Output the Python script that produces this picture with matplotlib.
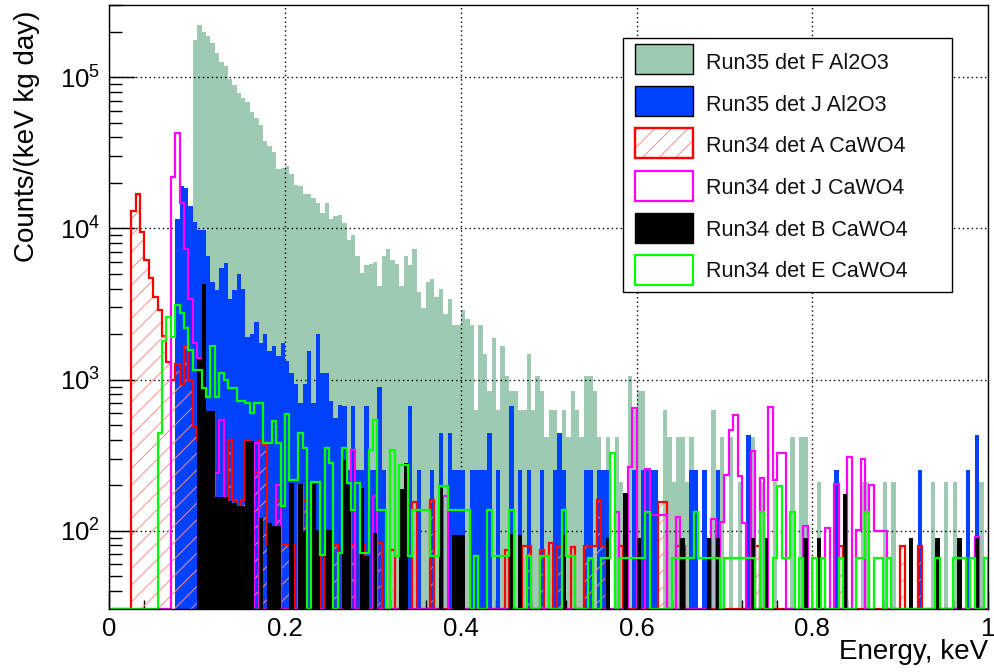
import numpy as np
import matplotlib
matplotlib.use("Agg")
import matplotlib.pyplot as plt
from matplotlib.patches import Rectangle
from matplotlib.ticker import LogLocator, MultipleLocator

# energy binning: 200 bins of 5 eV between 0 and 1 keV
edges = np.linspace(0.0, 1.0, 201)

# rates in counts/(keV kg day), one entry per bin
run35_F = [
    0, 0, 0, 0, 0, 0, 0, 0, 0, 0, 0, 0, 0, 0, 0, 0, 0, 0, 0, 177000,
    222000, 198000, 186000, 168000, 144000, 126000, 119000, 97000, 89000, 78000, 73000, 68000, 59000, 54000, 48000, 38000, 35000, 32000, 24600, 25000,
    26000, 23000, 19500, 19000, 17000, 17000, 15800, 14700, 12700, 14700, 11500, 12000, 12200, 10900, 8400, 9100, 6600, 5100, 5700, 5800,
    6000, 4150, 6600, 7300, 6200, 5800, 4150, 6600, 5700, 7300, 3800, 2980, 4400, 4600, 3500, 3950, 2700, 3400, 2300, 2300,
    2900, 2500, 2300, 630, 2300, 1470, 840, 1890, 630, 1680, 1050, 840, 840, 630, 630, 1470, 630, 1050, 840, 420,
    630, 630, 420, 630, 420, 840, 630, 420, 1050, 1050, 840, 420, 0, 420, 0, 420, 210, 0, 1050, 630,
    840, 840, 210, 210, 210, 0, 630, 420, 210, 420, 420, 210, 420, 210, 0, 210, 0, 630, 210, 420,
    0, 420, 0, 210, 0, 210, 420, 0, 210, 0, 0, 210, 0, 0, 0, 420, 0, 420, 420, 0,
    0, 210, 0, 0, 0, 0, 0, 0, 0, 0, 0, 210, 210, 0, 0, 0, 210, 0, 210, 0,
    0, 0, 0, 0, 0, 0, 0, 210, 0, 0, 210, 0, 210, 0, 0, 0, 0, 0, 210, 0,
]
run35_J = [
    0, 0, 0, 0, 0, 0, 0, 0, 0, 0, 0, 0, 0, 0, 0, 11500, 19000, 18500, 14000, 11000,
    9800, 9800, 6600, 4400, 3900, 5500, 5900, 3400, 3900, 5000, 4000, 1900, 2000, 2400, 1750, 2000, 1540, 1660, 1430, 1750,
    1320, 1100, 930, 700, 930, 1540, 700, 2000, 1100, 1100, 720, 560, 680, 665, 254, 665, 254, 254, 665, 254,
    254, 895, 254, 0, 0, 0, 0, 0, 665, 0, 254, 0, 0, 254, 0, 443, 0, 443, 254, 254,
    254, 0, 254, 254, 254, 254, 443, 0, 254, 0, 0, 665, 0, 254, 0, 254, 0, 0, 254, 0,
    0, 254, 443, 254, 0, 0, 0, 0, 254, 254, 0, 254, 254, 254, 0, 0, 0, 0, 0, 254,
    0, 254, 254, 254, 254, 0, 0, 0, 0, 0, 0, 0, 254, 254, 0, 254, 0, 0, 254, 0,
    0, 0, 0, 0, 0, 432, 0, 0, 0, 0, 0, 0, 0, 0, 0, 0, 0, 0, 0, 0,
    0, 0, 0, 0, 0, 254, 0, 0, 0, 0, 0, 0, 0, 0, 0, 0, 0, 0, 0, 0,
    0, 0, 0, 0, 254, 0, 0, 0, 0, 0, 0, 0, 0, 0, 0, 254, 0, 432, 0, 0,
]
run34_A = [
    0, 0, 0, 0, 0, 13000, 17000, 9400, 6200, 4700, 3500, 2900, 1940, 1300, 1000, 1260, 930, 1660, 1000, 490,
    400, 240, 160, 600, 160, 80, 160, 400, 160, 80, 160, 390, 80, 240, 390, 370, 80, 0, 160, 80,
    80, 80, 0, 80, 160, 0, 80, 80, 0, 80, 0, 80, 0, 80, 0, 80, 0, 80, 0, 0,
    0, 83, 0, 0, 75, 0, 0, 0, 0, 156, 0, 0, 0, 160, 0, 0, 0, 0, 0, 0,
    0, 0, 0, 0, 0, 0, 0, 0, 0, 0, 75, 0, 0, 0, 79, 79, 0, 0, 75, 0,
    83, 0, 78, 0, 0, 78, 0, 0, 79, 79, 79, 160, 79, 0, 0, 0, 79, 0, 0, 0,
    0, 0, 0, 0, 0, 156, 156, 0, 0, 79, 79, 0, 0, 0, 0, 0, 0, 0, 0, 0,
    0, 0, 0, 0, 0, 0, 0, 79, 0, 0, 0, 0, 0, 0, 0, 0, 0, 0, 0, 0,
    0, 0, 0, 0, 0, 0, 79, 0, 0, 0, 0, 0, 0, 0, 0, 0, 0, 0, 0, 0,
    79, 0, 0, 0, 79, 0, 0, 0, 0, 0, 0, 0, 0, 0, 0, 0, 0, 0, 0, 0,
]
run34_J = [
    0, 0, 0, 0, 0, 0, 0, 0, 0, 0, 0, 0, 0, 0, 21700, 42400, 14800, 7300, 3400, 1750,
    1390, 370, 0, 0, 240, 540, 0, 0, 0, 0, 0, 0, 0, 383, 0, 0, 0, 0, 200, 0,
    0, 0, 0, 200, 0, 0, 0, 0, 0, 0, 0, 0, 0, 0, 0, 344, 0, 0, 0, 0,
    169, 0, 0, 0, 0, 0, 0, 0, 0, 0, 0, 0, 0, 0, 0, 0, 169, 0, 0, 0,
    0, 0, 0, 0, 0, 0, 0, 0, 0, 0, 0, 0, 0, 0, 0, 0, 0, 0, 0, 0,
    0, 0, 0, 0, 0, 0, 0, 0, 0, 0, 0, 0, 0, 0, 0, 134, 0, 0, 266, 650,
    0, 0, 257, 128, 128, 128, 128, 0, 0, 124, 0, 0, 0, 0, 0, 0, 0, 120, 0, 115,
    235, 467, 580, 229, 113, 0, 336, 0, 224, 0, 660, 218, 327, 327, 0, 0, 0, 0, 107, 0,
    0, 0, 0, 104, 0, 205, 0, 0, 307, 0, 102, 300, 0, 202, 100, 100, 100, 0, 0, 0,
    0, 0, 0, 0, 0, 0, 0, 0, 0, 0, 0, 0, 0, 0, 0, 0, 0, 91, 0, 0,
]
run34_B = [
    0, 0, 0, 0, 0, 0, 0, 0, 0, 0, 0, 0, 0, 0, 0, 0, 0, 0, 0, 0,
    1360, 4260, 616, 616, 168, 168, 168, 158, 153, 146, 146, 390, 390, 0, 122, 0, 113, 108, 108, 0,
    0, 208, 0, 204, 100, 0, 204, 101, 0, 101, 101, 0, 0, 295, 202, 0, 0, 193, 68, 0,
    97, 0, 0, 0, 0, 0, 190, 282, 0, 0, 0, 0, 0, 0, 0, 193, 0, 0, 94, 94,
    94, 0, 0, 0, 0, 0, 0, 0, 0, 0, 0, 95, 0, 94, 0, 0, 0, 0, 0, 0,
    0, 0, 0, 94, 0, 0, 0, 0, 0, 0, 0, 0, 0, 89, 0, 0, 0, 178, 0, 0,
    89, 0, 0, 0, 0, 0, 0, 0, 0, 0, 89, 0, 0, 0, 0, 0, 89, 0, 89, 0,
    0, 0, 0, 0, 0, 0, 89, 0, 0, 89, 0, 0, 0, 0, 0, 0, 0, 0, 89, 0,
    0, 89, 0, 0, 0, 0, 0, 174, 0, 0, 0, 0, 0, 0, 0, 0, 0, 0, 0, 0,
    0, 0, 89, 0, 0, 0, 0, 0, 89, 0, 0, 0, 0, 89, 0, 0, 0, 89, 0, 0,
]
run34_E = [
    0, 0, 0, 0, 0, 0, 0, 0, 0, 0, 0, 446, 1790, 2600, 1900, 3100, 2760, 2200, 1580, 1160,
    1160, 880, 770, 1660, 770, 1100, 1000, 880, 880, 720, 720, 700, 604, 700, 700, 383, 383, 530, 383, 145,
    595, 218, 218, 446, 355, 0, 211, 211, 69, 355, 282, 0, 71, 353, 208, 138, 208, 71, 71, 344,
    544, 138, 138, 0, 344, 68, 273, 273, 68, 138, 138, 138, 138, 68, 68, 199, 199, 138, 138, 138,
    138, 138, 0, 68, 0, 0, 138, 68, 68, 68, 68, 138, 0, 0, 0, 68, 0, 0, 68, 68,
    0, 0, 0, 138, 68, 68, 0, 0, 0, 66, 0, 0, 66, 66, 327, 0, 66, 66, 66, 66,
    66, 66, 134, 0, 0, 0, 0, 0, 66, 66, 66, 66, 66, 134, 66, 66, 66, 66, 66, 0,
    66, 66, 66, 66, 66, 66, 66, 0, 134, 0, 0, 66, 197, 66, 66, 134, 0, 66, 0, 0,
    66, 0, 66, 0, 0, 0, 66, 0, 0, 0, 66, 66, 134, 0, 66, 66, 0, 66, 0, 0,
    0, 0, 0, 0, 0, 0, 0, 0, 66, 0, 0, 0, 66, 66, 66, 0, 66, 0, 0, 66,
]

labels = ["Run35 det F Al2O3", "Run35 det J Al2O3", "Run34 det A CaWO4",
          "Run34 det J CaWO4", "Run34 det B CaWO4", "Run34 det E CaWO4"]

YMIN, YMAX = 30.4, 3.0e5
W, H = 995, 672

plt.rcParams["font.family"] = ["Liberation Sans", "DejaVu Sans"]
plt.rcParams["mathtext.fontset"] = "custom"
plt.rcParams["mathtext.rm"] = "Liberation Sans"
plt.rcParams["hatch.linewidth"] = 0.7

fig = plt.figure(figsize=(W / 100, H / 100), dpi=100)
ax = fig.add_axes([109.3 / W, 1 - 609 / H, (988 - 109.3) / W, (609 - 5) / H])
ax.set_yscale("log")
ax.set_xlim(0, 1)
ax.set_ylim(YMIN, YMAX)


def hist(vals, **kw):
    # empty bins sit on the bottom of the frame, like ROOT draws them
    v = np.maximum(np.asarray(vals, float), YMIN)
    return ax.stairs(v, edges, baseline=YMIN, **kw)


c_F = "#9ecab4"
c_J = "#0040ff"
c_hatch = "#ff8c8c"

hist(run35_F, fill=True, color=c_F, lw=0, zorder=1)
hist(run35_J, fill=True, color=c_J, lw=0, zorder=3)
hist(run34_A, fill=True, facecolor="none", edgecolor=c_hatch, hatch="//", lw=0, zorder=4)
hist(run34_A, color="red", lw=1.6, zorder=4.1)
hist(run34_J, color="magenta", lw=1.6, zorder=5)
hist(run34_B, fill=True, color="black", lw=0, zorder=6)
hist(run34_E, color="#00ff00", lw=1.6, zorder=7)

# grid goes over the first histogram only
ax.set_axisbelow("line")
ax.grid(True, which="major", color="black", lw=1.0, ls=(0, (1, 2.2)))
for s in ax.spines.values():
    s.set_zorder(10)
    s.set_linewidth(1.0)

ax.xaxis.set_major_locator(MultipleLocator(0.2))
ax.xaxis.set_minor_locator(MultipleLocator(0.04))
ax.yaxis.set_major_locator(LogLocator(base=10))
ax.yaxis.set_minor_locator(LogLocator(base=10, subs=range(2, 10)))
ax.tick_params(which="both", direction="in", top=False, right=False, width=1.0)
ax.tick_params(axis="y", which="major", length=18.7, pad=6.5, labelsize=18.5)
ax.tick_params(axis="y", which="minor", length=9.4)
ax.tick_params(axis="x", which="major", length=13, pad=6, labelsize=18.5)
ax.tick_params(axis="x", which="minor", length=6.5)
ax.set_xticks([0, 0.2, 0.4, 0.6, 0.8, 1.0])
ax.set_xticklabels(["0", "0.2", "0.4", "0.6", "0.8", "1"])


def fx(x):
    return x / W


def fy(y):
    return 1 - y / H


fig.text(fx(27), fy(10), "Counts/(keV kg day)", rotation=90,
         ha="center", va="top", fontsize=20)
fig.text(fx(988), fy(652), "Energy, keV", ha="right", va="center", fontsize=20)

# legend box
fig.patches.append(Rectangle((fx(622.7), fy(291.7)), (952.3 - 622.7) / W, (291.7 - 38.3) / H,
                             transform=fig.transFigure, facecolor="white",
                             edgecolor="black", lw=1.0, zorder=20))
swatches = [
    dict(facecolor=c_F, edgecolor="black", lw=1.0),
    dict(facecolor=c_J, edgecolor="black", lw=1.0),
    dict(facecolor="white", edgecolor="red", lw=1.6),
    dict(facecolor="white", edgecolor="magenta", lw=1.6),
    dict(facecolor="black", edgecolor="black", lw=1.0),
    dict(facecolor="white", edgecolor="#00ff00", lw=1.6),
]
for i, (lab, st) in enumerate(zip(labels, swatches)):
    top = 44 + 42.2 * i
    fig.patches.append(Rectangle((fx(635), fy(top + 30)), 58 / W, 30 / H,
                                 transform=fig.transFigure, zorder=21, **st))
    if i == 2:
        fig.patches.append(Rectangle((fx(635), fy(top + 30)), 58 / W, 30 / H,
                                     transform=fig.transFigure, zorder=21.5,
                                     facecolor="none", edgecolor=c_hatch, hatch="//", lw=0))
        fig.patches.append(Rectangle((fx(635), fy(top + 30)), 58 / W, 30 / H,
                                     transform=fig.transFigure, zorder=21.6,
                                     facecolor="none", edgecolor="red", lw=1.6))
    fig.text(fx(706), fy(69.3 + 41.6 * i), lab, ha="left", va="baseline",
             fontsize=15.5, color="#111111", zorder=22)

fig.savefig("out.png", dpi=100)
